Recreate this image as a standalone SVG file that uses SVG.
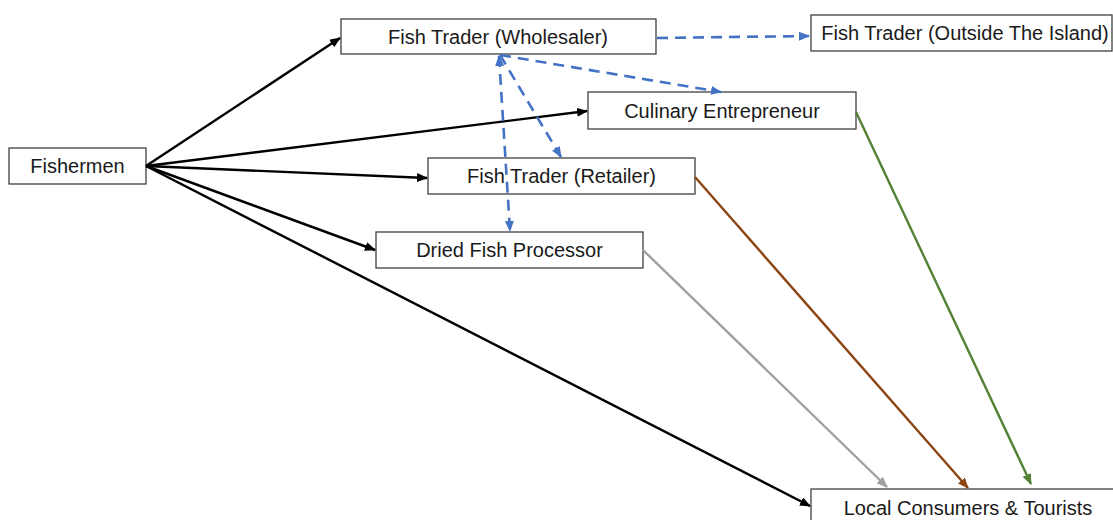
<svg xmlns="http://www.w3.org/2000/svg" width="1113" height="520" viewBox="0 0 1113 520">
<style>
.box{fill:#fff;stroke:#404040;stroke-width:1.3}
.lbl{font-family:"Liberation Sans",Arial,sans-serif;font-size:20px;fill:#1a1a1a;text-anchor:middle}
.k{stroke:#000;stroke-width:2.4;fill:none}
.b{stroke:#4472C4;stroke-width:2.6;fill:none;stroke-dasharray:11 7}
.g{stroke:#548235;stroke-width:2.4;fill:none}
.r{stroke:#8B4513;stroke-width:2.4;fill:none}
.y{stroke:#A0A0A0;stroke-width:2.4;fill:none}
</style>
<defs>
<marker id="ak" markerUnits="userSpaceOnUse" markerWidth="11" markerHeight="9" refX="10" refY="4.5" orient="auto"><path d="M0,0 L11,4.5 L0,9 z" fill="#000"/></marker>
<marker id="ab" markerUnits="userSpaceOnUse" markerWidth="11" markerHeight="9" refX="10" refY="4.5" orient="auto-start-reverse"><path d="M0,0 L11,4.5 L0,9 z" fill="#4472C4"/></marker>
<marker id="ag" markerUnits="userSpaceOnUse" markerWidth="11" markerHeight="9" refX="10" refY="4.5" orient="auto"><path d="M0,0 L11,4.5 L0,9 z" fill="#548235"/></marker>
<marker id="ar" markerUnits="userSpaceOnUse" markerWidth="11" markerHeight="9" refX="10" refY="4.5" orient="auto"><path d="M0,0 L11,4.5 L0,9 z" fill="#8B4513"/></marker>
<marker id="ay" markerUnits="userSpaceOnUse" markerWidth="11" markerHeight="9" refX="10" refY="4.5" orient="auto"><path d="M0,0 L11,4.5 L0,9 z" fill="#A0A0A0"/></marker>
</defs>
<rect width="1113" height="520" fill="#fff"/>
<g id="fishermen"><rect class="box" x="9" y="148" width="137" height="36"/><text class="lbl" x="77.5" y="173">Fishermen</text></g>
<g id="wholesaler"><rect class="box" x="341" y="19" width="315" height="35"/><text class="lbl" x="498" y="43.5">Fish Trader (Wholesaler)</text></g>
<g id="outside"><rect class="box" x="811" y="15" width="301" height="36"/><text class="lbl" x="965" y="40">Fish Trader (Outside The Island)</text></g>
<g id="culinary"><rect class="box" x="588" y="92" width="268" height="37"/><text class="lbl" x="722" y="117.5">Culinary Entrepreneur</text></g>
<g id="retailer"><rect class="box" x="428" y="158" width="267" height="36"/><text class="lbl" x="561.5" y="183">Fish Trader (Retailer)</text></g>
<g id="dried"><rect class="box" x="376" y="232" width="267" height="36"/><text class="lbl" x="509.5" y="257">Dried Fish Processor</text></g>
<g id="local"><rect class="box" x="811" y="489" width="320" height="37"/><text class="lbl" x="968" y="514.5">Local Consumers &amp; Tourists</text></g>
<g id="connectors">
<line class="k" x1="146" y1="166" x2="340" y2="38" marker-end="url(#ak)"/>
<line class="k" x1="146" y1="166" x2="587" y2="111" marker-end="url(#ak)"/>
<line class="k" x1="146" y1="166" x2="427" y2="178" marker-end="url(#ak)"/>
<line class="k" x1="146" y1="166" x2="375" y2="250" marker-end="url(#ak)"/>
<line class="k" x1="146" y1="166" x2="810" y2="506" marker-end="url(#ak)"/>
<line class="b" x1="657" y1="38" x2="809" y2="36" marker-end="url(#ab)"/>
<line class="b" x1="500" y1="55" x2="721" y2="92" marker-end="url(#ab)"/>
<line class="b" x1="500" y1="55" x2="561" y2="157" marker-end="url(#ab)"/>
<line class="b" x1="499" y1="56" x2="510" y2="231" marker-start="url(#ab)" marker-end="url(#ab)"/>
<line class="g" x1="856" y1="112" x2="1031" y2="484" marker-end="url(#ag)"/>
<line class="r" x1="695" y1="177" x2="968" y2="488" marker-end="url(#ar)"/>
<line class="y" x1="643" y1="250" x2="887" y2="487" marker-end="url(#ay)"/>
</g>
</svg>
